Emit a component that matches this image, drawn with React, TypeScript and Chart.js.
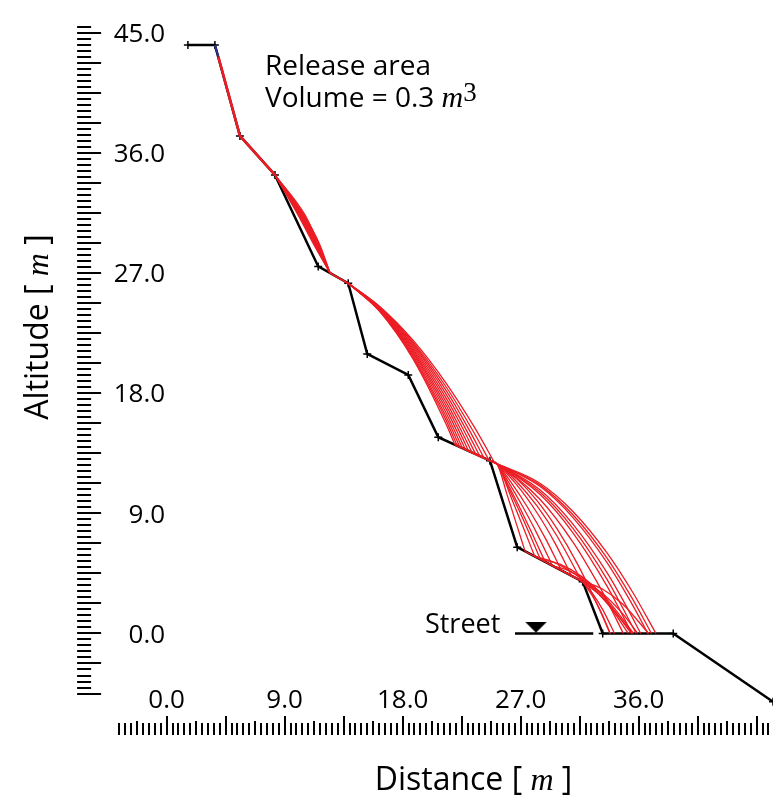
import React, { useEffect, useRef } from "react";
import { Chart, registerables } from "chart.js";

Chart.register(...registerables);

type Pt = [number, number];

// ---------------- data (metres) ----------------
// slope profile (distance, altitude)
const profileX = [1.62, 3.68, 5.59, 8.26, 11.56, 13.85, 15.3, 18.43, 20.72, 24.66, 26.74, 31.73, 33.26, 38.64, 46.25];
const profileY = [44.08, 44.08, 37.27, 34.35, 27.49, 26.23, 20.94, 19.36, 14.7, 12.94, 6.46, 3.88, 0, 0, -5.11];

// street
const streetX = [26.57, 32.54];
const streetY = [0, 0];
const streetMarker: Pt = [28.17, 0.47];

// common start of all trajectories
const blueStart: Pt[] = [[3.68, 44.08], [3.94, 43.21]];
const releasePath: Pt[] = [[3.94, 43.21], [5.59, 37.27], [8.26, 34.35]];
const ledgeSlide: Pt[] = [[12.46, 27.0], [13.85, 26.23]];

// trajectories, each split in flight / contact pieces
const traj01: Pt[][] = [
  [[8.26, 34.35], [10.47, 31.35], [11.69, 29.1], [12.46, 27.0]],
  [[13.85, 26.23], [16.27, 24.48], [18.79, 21.97], [21.31, 18.76], [23.52, 15.38], [25.01, 12.79]],
  [[25.01, 12.79], [28.47, 11.25], [30.99, 9.14], [33.59, 6.04], [35.57, 3.05], [37.32, 0]],
];
const traj02: Pt[][] = [
  [[8.26, 34.35], [10.32, 31.35], [11.54, 29.1], [12.46, 27.0]],
  [[13.85, 26.23], [16.27, 24.44], [18.79, 21.84], [21.31, 18.48], [23.36, 15.18], [24.59, 12.97]],
  [[24.59, 12.97], [25.19, 12.7], [28.47, 11.02], [30.99, 8.68], [33.59, 5.31], [35.49, 2.22], [36.71, 0]],
];
const traj03: Pt[][] = [
  [[8.26, 34.35], [10.55, 31.35], [11.62, 29.1], [12.46, 27.0]],
  [[13.85, 26.23], [16.27, 24.41], [18.79, 21.72], [21.31, 18.21], [22.98, 15.42], [24.21, 13.15]],
  [[24.21, 13.15], [24.66, 12.94]],
  [[24.66, 12.94], [25.19, 12.7], [28.47, 10.76], [30.99, 8.19], [33.59, 4.55], [35.11, 1.95], [36.16, 0]],
];
const traj04: Pt[][] = [
  [[8.26, 34.35], [10.17, 31.35], [11.39, 29.1], [12.46, 27.0]],
  [[13.85, 26.23], [16.27, 24.37], [18.79, 21.59], [21.31, 17.93], [22.83, 15.29], [23.88, 13.3]],
  [[23.88, 13.3], [24.66, 12.94]],
  [[24.66, 12.94], [25.19, 12.7], [26.72, 11.56], [28.25, 9.95], [29.77, 7.85], [31.3, 5.27], [32.83, 2.21], [33.82, 0]],
];
const traj05: Pt[][] = [
  [[8.26, 34.35], [10.4, 31.35], [11.54, 29.1], [12.46, 27.0]],
  [[13.85, 26.23], [16.27, 24.34], [18.79, 21.46], [21.31, 17.65], [22.6, 15.33], [23.57, 13.43]],
  [[23.57, 13.43], [24.66, 12.94]],
  [[24.66, 12.94], [25.19, 12.7], [28.47, 10.42], [30.99, 7.54], [33.59, 3.55], [35.49, 0]],
];
const traj06: Pt[][] = [
  [[8.26, 34.35], [10.09, 31.35], [11.31, 29.1], [12.46, 27.0]],
  [[13.85, 26.23], [16.27, 24.31], [18.79, 21.33], [21.31, 17.37], [22.37, 15.39], [23.29, 13.56]],
  [[23.29, 13.56], [24.66, 12.94]],
  [[24.66, 12.94], [25.19, 12.7], [26.72, 11.11], [28.25, 9.04], [29.62, 6.77], [30.89, 4.31]],
  [[30.89, 4.31], [31.73, 3.88]],
  [[31.73, 3.88], [33.26, 2.98], [34.78, 1.48], [35.93, 0]],
];
const traj07: Pt[][] = [
  [[8.26, 34.35], [10.24, 31.35], [11.47, 29.1], [12.46, 27.0]],
  [[13.85, 26.23], [16.27, 24.28], [18.79, 21.21], [21.31, 17.09], [22.22, 15.34], [23.03, 13.67]],
  [[23.03, 13.67], [24.66, 12.94]],
  [[24.66, 12.94], [25.19, 12.7], [28.47, 10.05], [30.99, 6.84], [32.82, 3.86], [33.59, 2.46], [34.83, 0]],
];
const traj08: Pt[][] = [
  [[8.26, 34.35], [10.02, 31.35], [11.24, 29.1], [12.46, 27.0]],
  [[13.85, 26.23], [16.27, 24.24], [18.79, 21.08], [21.31, 16.82], [22.07, 15.3], [22.79, 13.78]],
  [[22.79, 13.78], [24.66, 12.94]],
  [[24.66, 12.94], [25.19, 12.7], [26.34, 11.23], [27.48, 9.53], [28.86, 7.18], [30.11, 4.72]],
  [[30.11, 4.72], [31.73, 3.88]],
  [[31.73, 3.88], [32.88, 3.0], [34.02, 1.72], [35.21, 0]],
];
const traj09: Pt[][] = [
  [[8.26, 34.35], [10.32, 31.35], [11.47, 29.1], [12.46, 27.0]],
  [[13.85, 26.23], [16.27, 24.21], [18.79, 20.95], [21.31, 16.53], [21.91, 15.29], [22.57, 13.87]],
  [[22.57, 13.87], [24.66, 12.94]],
  [[24.66, 12.94], [25.19, 12.7], [26.11, 11.28], [27.1, 9.6], [28.25, 7.48], [29.43, 5.07]],
  [[29.43, 5.07], [30.57, 4.75], [31.73, 4.12], [33.24, 2.82], [35.44, 0]],
];
const traj10: Pt[][] = [
  [[8.26, 34.35], [10.17, 31.35], [11.31, 29.1], [12.46, 27.0]],
  [[13.85, 26.23], [16.27, 24.17], [18.79, 20.82], [21.31, 16.25], [21.76, 15.3], [22.36, 13.97]],
  [[22.36, 13.97], [24.66, 12.94]],
  [[24.66, 12.94], [25.19, 12.7], [25.96, 11.31], [26.87, 9.55], [27.86, 7.52], [28.86, 5.37]],
  [[28.86, 5.37], [31.73, 3.88]],
  [[31.73, 3.88], [32.49, 2.98], [33.26, 1.78], [34.16, 0]],
];
const traj11: Pt[][] = [
  [[8.26, 34.35], [10.4, 31.35], [11.62, 29.1], [12.46, 27.0]],
  [[13.85, 26.23], [16.27, 24.13], [18.79, 20.7], [20.69, 17.24], [21.31, 15.98], [22.17, 14.05]],
  [[22.17, 14.05], [24.66, 12.94]],
  [[24.66, 12.94], [25.19, 12.7], [26.34, 10.04], [27.25, 7.83], [28.07, 5.78]],
  [[28.07, 5.78], [29.6, 5.3], [31.73, 4.02], [33.41, 2.52], [35.54, 0]],
];
const traj12: Pt[][] = [
  [[8.26, 34.35], [10.09, 31.35], [11.39, 29.1], [12.46, 27.0]],
  [[13.85, 26.23], [16.27, 24.1], [18.79, 20.57], [21.31, 15.69], [21.99, 14.13]],
  [[21.99, 14.13], [24.66, 12.94]],
  [[24.66, 12.94], [25.19, 12.7], [25.96, 10.42], [26.72, 8.08], [27.34, 6.15]],
  [[27.34, 6.15], [31.73, 3.88]],
  [[31.73, 3.88], [32.49, 2.79], [33.26, 1.33], [33.84, 0]],
];
// further runs, visible only below the lower bench
const traj13: Pt[][] = [
  [[24.66, 12.94], [25.19, 12.7], [28.47, 11.13], [30.99, 8.89], [33.59, 5.65], [35.49, 2.66], [36.98, 0]],
];
const traj14: Pt[][] = [
  [[24.66, 12.94], [25.19, 12.7], [28.47, 10.59], [30.99, 7.87], [33.59, 4.05], [35.81, 0]],
];
const traj15: Pt[][] = [
  [[24.66, 12.94], [25.19, 12.7], [26.72, 11.35], [28.25, 9.55], [29.77, 7.3], [31.65, 3.93]],
  [[31.65, 3.93], [33.26, 3.31], [34.78, 2.2], [36.76, 0]],
];
const traj16: Pt[][] = [
  [[24.66, 12.94], [25.19, 12.7], [25.96, 11.16], [26.87, 9.24], [27.71, 7.39], [28.51, 5.54]],
  [[28.51, 5.54], [30.04, 5.17], [31.73, 4.22], [33.47, 2.68], [35.62, 0]],
];

// axes
const yTickValues = [0, 9, 18, 27, 36, 45];
const xTickValues = [0, 9, 18, 27, 36];
const RULER_STEP = 0.45;
const yRulerRange = [-10, 101];
const xRulerRange = [-8, 102];

// ---------------- styling ----------------
const RED = "#ec1c24";
const BLUE = "#2e3192";
const SANS = '"Open Sans", "Noto Sans", sans-serif';
const SERIF = '"Liberation Serif", "DejaVu Serif", serif';

function toPts(list: Pt[]) {
  return list.map(([x, y]) => ({ x, y }));
}

type Part = { t: string; f: string; dy?: number };

function drawRich(ctx: CanvasRenderingContext2D, parts: Part[], x: number, y: number, align: "left" | "center") {
  let w = 0;
  for (const p of parts) {
    ctx.font = p.f;
    w += ctx.measureText(p.t).width;
  }
  let cx = align === "center" ? x - w / 2 : x;
  ctx.textAlign = "left";
  ctx.textBaseline = "alphabetic";
  for (const p of parts) {
    ctx.font = p.f;
    ctx.fillText(p.t, cx, y + (p.dy || 0));
    cx += ctx.measureText(p.t).width;
  }
}

const rulerPlugin = {
  id: "rulerAxes",
  afterDraw(chart: any) {
    const { ctx, chartArea: ca, scales } = chart;
    const xs = scales.x;
    const ys = scales.y;
    ctx.save();
    ctx.strokeStyle = "#000";
    ctx.fillStyle = "#000";
    ctx.lineWidth = 2;
    ctx.lineCap = "butt";

    // vertical ruler (altitude)
    for (let i = yRulerRange[0]; i <= yRulerRange[1]; i++) {
      const py = Math.round(ys.getPixelForValue(i * RULER_STEP));
      const long = i % 5 === 0;
      ctx.beginPath();
      ctx.moveTo(ca.left - 24, py);
      ctx.lineTo(long ? ca.left : ca.left - 10, py);
      ctx.stroke();
    }
    // horizontal ruler (distance)
    const bottom = ca.bottom + 21.5;
    for (let i = xRulerRange[0]; i <= xRulerRange[1]; i++) {
      const px = Math.round(xs.getPixelForValue(i * RULER_STEP));
      const len = i % 10 === 0 ? 19 : i % 5 === 0 ? 14 : 12;
      ctx.beginPath();
      ctx.moveTo(px, bottom);
      ctx.lineTo(px, bottom - len);
      ctx.stroke();
    }

    // tick labels
    ctx.font = `26px ${SANS}`;
    ctx.textBaseline = "alphabetic";
    ctx.textAlign = "right";
    for (const v of yTickValues) {
      ctx.fillText(v.toFixed(1), ca.left + 64, ys.getPixelForValue(v) + 9.2);
    }
    ctx.textAlign = "center";
    for (const v of xTickValues) {
      ctx.fillText(v.toFixed(1), xs.getPixelForValue(v), ca.bottom - 5.5);
    }

    // axis titles
    drawRich(
      ctx,
      [
        { t: "Distance [ ", f: `32px ${SANS}` },
        { t: "m", f: `italic 32px ${SERIF}` },
        { t: " ]", f: `32px ${SANS}` },
      ],
      ca.left + 372.4,
      ca.bottom + 76.5,
      "center"
    );
    ctx.save();
    ctx.translate(ca.left - 53, ca.top + 321);
    ctx.rotate(-Math.PI / 2);
    drawRich(
      ctx,
      [
        { t: "Altitude [ ", f: `32px ${SANS}` },
        { t: "m", f: `italic 32px ${SERIF}` },
        { t: " ]", f: `32px ${SANS}` },
      ],
      0,
      0,
      "center"
    );
    ctx.restore();

    // annotations
    drawRich(ctx, [{ t: "Release area", f: `28px ${SANS}` }], xs.getPixelForValue(7.5), ys.getPixelForValue(41.8), "left");
    drawRich(
      ctx,
      [
        { t: "Volume = 0.3 ", f: `28px ${SANS}` },
        { t: "m", f: `italic 30px ${SERIF}` },
        { t: "3", f: `27px ${SERIF}`, dy: -6 },
      ],
      xs.getPixelForValue(7.5),
      ys.getPixelForValue(39.43),
      "left"
    );
    drawRich(ctx, [{ t: "Street", f: `27px ${SANS}` }], xs.getPixelForValue(19.7), ys.getPixelForValue(0.04), "left");

    ctx.restore();
  },
};

export default function App() {
  const ref = useRef<HTMLCanvasElement>(null);

  useEffect(() => {
    document.body.style.margin = "0";
    document.documentElement.style.overflow = "hidden";
    const canvas = ref.current;
    if (!canvas) return;

    const tri = document.createElement("canvas");
    tri.width = 22;
    tri.height = 11;
    const tctx = tri.getContext("2d")!;
    tctx.fillStyle = "#000";
    tctx.beginPath();
    tctx.moveTo(0, 0);
    tctx.lineTo(22, 0);
    tctx.lineTo(11, 11);
    tctx.closePath();
    tctx.fill();

    const trajectories = [
      traj01, traj02, traj03, traj04, traj05, traj06, traj07, traj08,
      traj09, traj10, traj11, traj12, traj13, traj14, traj15, traj16,
    ];
    const redSets: any[] = [];
    trajectories.forEach((tr) =>
      tr.forEach((piece) =>
        redSets.push({
          data: toPts(piece),
          borderColor: RED,
          borderWidth: 1.3,
          pointRadius: 0,
          cubicInterpolationMode: "monotone",
          fill: false,
          order: 0,
        })
      )
    );

    const chart = new Chart(canvas, {
      type: "line",
      data: {
        datasets: [
          ...redSets,
          { data: toPts(releasePath), borderColor: RED, borderWidth: 2.6, pointRadius: 0, order: 0 },
          { data: toPts(ledgeSlide), borderColor: RED, borderWidth: 2, pointRadius: 0, order: 0 },
          { data: toPts(blueStart), borderColor: BLUE, borderWidth: 2, pointRadius: 0, order: 1 },
          {
            data: profileX.map((x, i) => ({ x, y: profileY[i] })),
            borderColor: "#000",
            borderWidth: 2.5,
            pointStyle: "cross",
            pointRadius: 4,
            pointBorderWidth: 1.5,
            pointBorderColor: "#000",
            order: 2,
          },
          {
            data: streetX.map((x, i) => ({ x, y: streetY[i] })),
            borderColor: "#000",
            borderWidth: 2.5,
            pointRadius: 0,
            order: 2,
          },
          {
            data: [{ x: streetMarker[0], y: streetMarker[1] }],
            showLine: false,
            pointStyle: tri as any,
            pointRadius: 11,
            order: 2,
          },
        ] as any,
      },
      options: {
        responsive: false,
        animation: false,
        devicePixelRatio: 1,
        events: [],
        layout: { autoPadding: false, padding: { left: 101.1, right: 0, top: 6, bottom: 81.45 } },
        plugins: { legend: { display: false }, tooltip: { enabled: false } },
        scales: {
          x: { type: "linear", min: -5, max: 46.25, display: false },
          y: { type: "linear", min: -6, max: 47, display: false },
        },
      } as any,
      plugins: [rulerPlugin],
    });

    return () => chart.destroy();
  }, []);

  return <canvas ref={ref} width={773} height={795} style={{ display: "block", width: 773, height: 795 }} />;
}
